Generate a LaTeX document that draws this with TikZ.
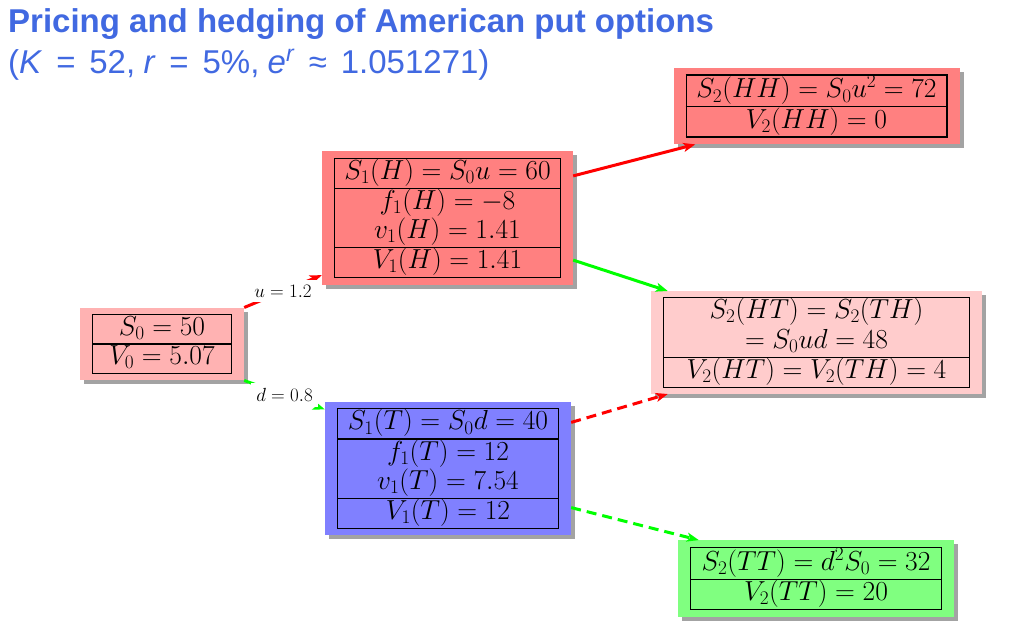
\RequirePackage{fix-cm}
\documentclass[tikz,border=0pt]{standalone}
\usepackage{fontspec}
\setsansfont{Liberation Sans}
\usepackage{array}
\usetikzlibrary{shadows,arrows.meta,calc}
\definecolor{titleblue}{RGB}{65,105,225}
\setlength{\arrayrulewidth}{1.2pt}
\newcommand\tbl[2]{\begin{tabular}{|@{}>{\centering\arraybackslash}p{#1}@{}|}\hline #2\\\hline\end{tabular}}
\newcommand\myrel[1]{\hspace{.42em}#1\hspace{.42em}}
\tikzset{
  box/.style={inner xsep=12pt, inner ysep=6.5pt,
    drop shadow={shadow xshift=4pt, shadow yshift=-4pt, fill=black!45, opacity=.8},
    font=\fontsize{27.5}{28}\selectfont},
  edge/.style={line width=3pt, -{Stealth[length=12pt,width=9pt,inset=3pt]}},
  dashededge/.style={edge, dash pattern=on 10pt off 6pt},
  lbl/.style={fill=white, text=black, inner sep=5pt, font=\fontsize{19}{21}\selectfont},
  ttl/.style={anchor=base west, inner sep=0pt, text=titleblue, font=\sffamily\fontsize{33}{38}\selectfont}
}
\begin{document}
\begin{tikzpicture}[x=1pt,y=-1pt]
\useasboundingbox (0,0) rectangle (1033,627);
\node[ttl, font=\sffamily\bfseries\fontsize{33}{38}\selectfont] (title) at (8,32) {Pricing and hedging of American put options};
\node[ttl] (sub) at (8,73) {(\textit{K}\myrel{=}52,\hspace{.25em}\textit{r}\myrel{=}5\%,\hspace{.25em}\textit{e}\textsuperscript{\textit{r}}\myrel{≈}1.051271)};

\node[box, fill=red!30] (s0) at (162,344) {\tbl{137.6pt}{$S_0=50$\\\hline $V_0=5.07$}};
\node[box, fill=red!50] (s1h) at (447.5,218) {\tbl{224.6pt}{$S_1(H)=S_0u=60$\\\hline $f_1(H)=-8$\\ $v_1(H)=1.41$\\\hline $V_1(H)=1.41$}};
\node[box, fill=blue!50] (s1t) at (448,468.5) {\tbl{219.6pt}{$S_1(T)=S_0d=40$\\\hline $f_1(T)=12$\\ $v_1(T)=7.54$\\\hline $V_1(T)=12$}};
\node[box, fill=red!50] (s2hh) at (816.5,106) {\tbl{259.6pt}{$S_2(HH)=S_0u^2=72$\\\hline $V_2(HH)=0$}};
\node[box, fill=red!20, inner ysep=5.5pt] (s2ht) at (816.5,342.5) {\tbl{304.6pt}{$S_2(HT)=S_2(TH)$\\[2pt] $=S_0ud=48$\\\hline $V_2(HT)=V_2(TH)=4$}};
\node[box, fill=green!50] (s2tt) at (816,578.5) {\tbl{249.6pt}{$S_2(TT)=d^2S_0=32$\\\hline $V_2(TT)=20$}};

\draw[edge, red] (s0.north east) -- node[lbl] {$u=1.2$} ($(s1h.south west)+(0,-10)$);
\draw[edge, green] (s0.south east) -- node[lbl] {$d=0.8$} ($(s1t.north west)+(0,8)$);
\draw[edge, red] ($(s1h.north east)+(0,25)$) -- ($(s2hh.south west)+(22,0)$);
\draw[edge, green] ($(s1h.south east)+(0,-25)$) -- ($(s2ht.north west)+(17,0)$);
\draw[dashededge, red] ($(s1t.north east)+(0,21)$) -- ($(s2ht.south west)+(17,0)$);
\draw[dashededge, green] ($(s1t.south east)+(0,-28)$) -- ($(s2tt.north west)+(21,0)$);
\end{tikzpicture}
\end{document}
